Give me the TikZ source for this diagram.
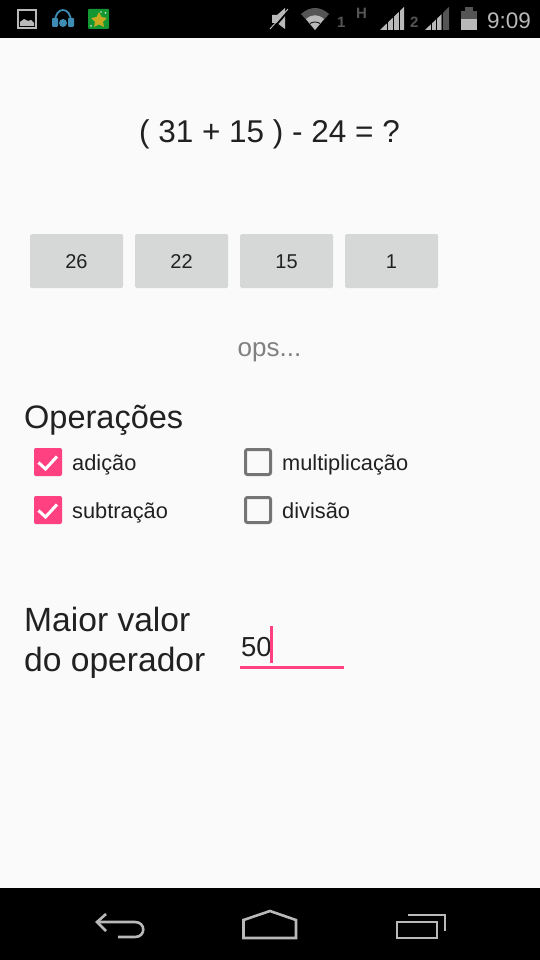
\documentclass[tikz,border=0pt]{standalone}
\usepackage{fontspec}
\setmainfont{Liberation Sans}
\usetikzlibrary{positioning}
\definecolor{screenbg}{RGB}{250,250,250}
\definecolor{pinkacc}{RGB}{255,64,129}
\definecolor{btngray}{RGB}{214,215,215}
\definecolor{boxgray}{RGB}{117,117,117}
\definecolor{txtdark}{RGB}{33,33,33}
\definecolor{iconblue}{RGB}{62,140,180}
\definecolor{icongreen}{RGB}{20,150,50}
\definecolor{icongold}{RGB}{200,170,30}
\definecolor{statlight}{RGB}{185,185,185}
\definecolor{statdim}{RGB}{85,85,85}
\tikzset{
    answerbtn/.style={
        fill=btngray,
        rounded corners=1.5pt,
        draw=none,
        outer sep=0pt,
        minimum width=93pt,
        minimum height=54pt,
        inner sep=0pt,
        text height=15pt,
        text depth=0pt,
        text=txtdark,
        font=\fontsize{20}{24}\selectfont
    },
    checkon/.style={
        fill=pinkacc,
        rounded corners=2pt,
        draw=none,
        minimum size=28pt,
        inner sep=0pt
    },
    checkoff/.style={
        draw=boxgray,
        line width=3pt,
        rounded corners=2pt,
        minimum size=25pt,
        inner sep=0pt
    },
    checkmark/.style={
        white,
        line width=3pt
    },
    checklabel/.style={
        anchor=base west,
        inner sep=0pt,
        text=txtdark,
        font=\fontsize{21.8}{26}\selectfont
    },
    biglabel/.style={
        anchor=base west,
        inner sep=0pt,
        text=txtdark,
        font=\fontsize{33.6}{38}\selectfont
    },
    navicon/.style={
        draw=statlight,
        line width=2.6pt
    },
    stattext/.style={
        anchor=base west,
        inner sep=0pt,
        text=statlight
    }
}

\begin{document}
\begin{tikzpicture}[x=1pt,y=-1pt]
	\useasboundingbox (0,0) rectangle (540,960);
	\fill[screenbg] (0,0) rectangle (540,960);
	\fill[black] (0,0) rectangle (540,38);
	\fill[black] (0,888) rectangle (540,960);
	
	% left status icons
	\draw[statlight,line width=1.2pt] (18,10) rectangle (36,28);
	\fill[statlight] (20,26) -- (20,22) -- (24,19) -- (28,21) -- (31,20) -- (34,23) -- (34,26) -- cycle;
	\draw[iconblue,line width=1.8pt] (55,22) .. controls (55,6) and (71,6) .. (71,22);
	\fill[iconblue,rounded corners=1pt] (52,18) rectangle (58,27) (74,27) rectangle (68,18);
	\fill[iconblue] (63,23) circle (4pt);
	\fill[icongreen,rounded corners=1pt] (88,9) rectangle (109,29);
	\fill[icongold] (99,12) -- (101.5,17) -- (107,18) -- (103,22) -- (104,27) -- (99,24.5) -- (94,27) -- (95,22) -- (91,18) -- (96.5,17) -- cycle;
	\fill[white!75!icongreen] (91,26) circle (1pt) (105.5,13) circle (1pt) (101,12) circle (0.8pt);
	
	% right status icons
	\fill[statlight] (272,15) -- (277,15) -- (285,8) -- (285,29) -- (277,23) -- (272,23) -- cycle;
	\draw[black,line width=1.8pt] (271,31) -- (290,9);
	\draw[statlight,line width=1pt] (270,29) -- (288,9);
	\fill[statdim] (301,14) .. controls (310,6) and (320,6) .. (329,14) -- (315,30) -- cycle;
	\fill[statlight] (306,19) .. controls (312,14) and (318,14) .. (324,19) -- (315,30) -- cycle;
	\draw[black,line width=0.8pt] (310,23.5) .. controls (313,21.5) and (317,21.5) .. (320,23.5);
	\node[stattext,text=statdim,font=\bfseries\fontsize{15}{18}\selectfont] (wifinum) at (337,28) {1};
	\node[stattext,text=statdim,font=\bfseries\fontsize{15}{18}\selectfont] (netlabel) at (356,19) {H};
	\fill[statlight] (380,30) -- (404,7) -- (404,30) -- cycle;
	\draw[black,line width=0.7pt] (387,20) -- (387,30) (393,14) -- (393,30) (399,8) -- (399,30);
	\node[stattext,text=statdim,font=\bfseries\fontsize{15}{18}\selectfont] (simnum) at (410,28) {2};
	\fill[statdim] (425,30) -- (449,7) -- (449,30) -- cycle;
	\fill[statlight] (425,30) -- (441,15) -- (441,30) -- cycle;
	\draw[black,line width=0.7pt] (431,20) -- (431,30) (436,14) -- (436,30) (442,8) -- (442,30);
	\fill[statdim] (461,11) rectangle (477,19);
	\fill[statdim] (465,7.5) rectangle (473,11);
	\fill[statlight] (461,19) rectangle (477,30);
	\node[stattext,font=\fontsize{22.5}{28}\selectfont] (clock) at (487,29) {9:09};
	
	% question
	\node[inner sep=0pt,text=txtdark,anchor=base,font=\fontsize{31.5}{38}\selectfont] (question) at (269.5,143) {( 31 + 15 ) - 24 = ?};
	
	% answers
	\node[answerbtn] (ans1) at (76.5,261) {26};
	\node[answerbtn,right=12pt of ans1] (ans2) {22};
	\node[answerbtn,right=12pt of ans2] (ans3) {15};
	\node[answerbtn,right=12pt of ans3] (ans4) {1};
	
	\node[inner sep=0pt,anchor=base,text=gray,font=\fontsize{26}{30}\selectfont] (feedback) at (269.5,356) {ops...};
	
	% operations
	\node[biglabel,font=\fontsize{32.5}{38}\selectfont] (optitle) at (24,428) {Operações};
	\node[checkon] (chk1) at (48,462) {};
	\node[checkon] (chk2) at (48,510) {};
	\node[checkoff] (chk3) at (258,462) {};
	\node[checkoff] (chk4) at (258,510) {};
	\draw[checkmark] (38.5,462.5) -- (45.5,469) -- (57,456.5);
	\draw[checkmark] (38.5,510.5) -- (45.5,517) -- (57,504.5);
	\node[checklabel] (lbl1) at (72,470) {adição};
	\node[checklabel] (lbl2) at (72,518) {subtração};
	\node[checklabel] (lbl3) at (282,470) {multiplicação};
	\node[checklabel] (lbl4) at (282,518) {divisão};
	
	% max value
	\node[biglabel] (maxa) at (24,631) {Maior valor};
	\node[biglabel] (maxb) at (24,671) {do operador};
	\node[checklabel,font=\fontsize{27.5}{32}\selectfont] (maxval) at (241,656) {50};
	\fill[pinkacc] (269.5,626) rectangle (272.5,663);
	\fill[pinkacc] (240,666) rectangle (344,669);
	
	% navigation bar
	\draw[navicon] (106,914) -- (97,922) -- (106,931);
	\draw[navicon] (97,922) -- (135,922) .. controls (146,922) and (146,937) .. (135,937) -- (118,937);
	\draw[navicon] (243.5,938) -- (243.5,920) -- (270,911) -- (296,920) -- (296,938) -- cycle;
	\draw[navicon] (397,922) rectangle (437,938);
	\draw[navicon] (408,915) -- (445,915) -- (445,931);
\end{tikzpicture}
\end{document}
